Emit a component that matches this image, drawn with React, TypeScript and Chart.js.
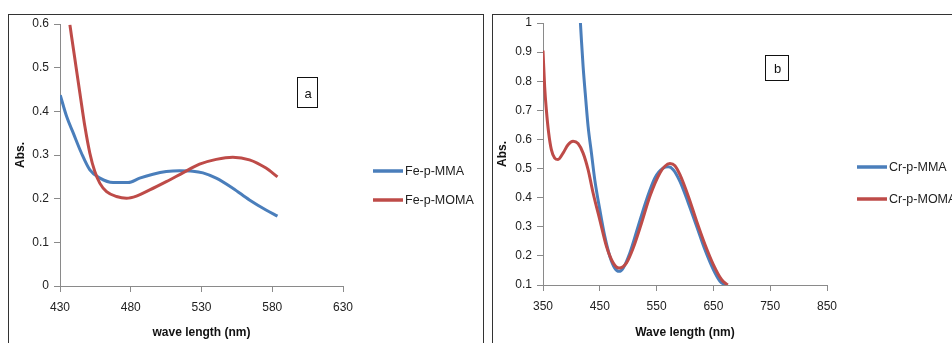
import React, { useEffect, useRef } from "react";
import { Chart, registerables } from "chart.js";
Chart.register(...registerables);

// ---------- Panel a data ----------
const feMmaX = [430.2, 434.7, 439.4, 445.2, 451.1, 458.2, 467.5, 478.1, 486.3, 495.7, 505.1, 514.5, 523.9, 531, 540.4, 552.1, 563.9, 575.6, 583.7];
const feMmaY = [0.437, 0.388, 0.35, 0.304, 0.266, 0.247, 0.237, 0.237, 0.247, 0.256, 0.262, 0.264, 0.263, 0.259, 0.247, 0.224, 0.197, 0.174, 0.16];
const feMomaX = [437.0, 438.2, 440.6, 444.1, 447.6, 451.1, 454.6, 458.2, 462.9, 469.9, 477.0, 484.0, 493.4, 505.1, 516.8, 528.6, 540.4, 552.1, 563.9, 575.6, 583.7];
const feMomaY = [0.598, 0.571, 0.518, 0.441, 0.365, 0.304, 0.262, 0.235, 0.216, 0.205, 0.201, 0.206, 0.22, 0.239, 0.259, 0.279, 0.29, 0.295, 0.289, 0.27, 0.25];

// ---------- Panel b data ----------
const crMmaX = [415.9, 417.6, 420.6, 425.3, 429.4, 435.3, 441.1, 450.0, 458.8, 467.6, 476.4, 484.1, 491.1, 502.9, 517.6, 532.3, 547.0, 561.7, 570.5, 579.3, 591.1, 605.8, 620.5, 635.2, 649.9, 661.6, 670.5];
const crMmaY = [1.0, 0.943, 0.851, 0.737, 0.645, 0.553, 0.462, 0.359, 0.267, 0.199, 0.158, 0.147, 0.158, 0.21, 0.302, 0.393, 0.468, 0.502, 0.506, 0.496, 0.456, 0.382, 0.302, 0.221, 0.153, 0.113, 0.1];
const crMomaX = [350.0, 352.9, 355.9, 360.0, 364.7, 370.6, 376.5, 385.3, 394.1, 402.9, 411.7, 420.6, 429.4, 438.2, 450.0, 461.7, 473.5, 484.1, 497.0, 508.8, 523.5, 538.2, 555.8, 564.6, 573.4, 582.3, 591.1, 605.8, 620.5, 635.2, 649.9, 664.6, 675.2];
const crMomaY = [0.905, 0.782, 0.702, 0.622, 0.565, 0.536, 0.531, 0.553, 0.582, 0.594, 0.586, 0.553, 0.496, 0.416, 0.324, 0.233, 0.176, 0.158, 0.176, 0.227, 0.313, 0.405, 0.485, 0.508, 0.517, 0.51, 0.479, 0.405, 0.319, 0.239, 0.17, 0.118, 0.1];

const labelsA = ["Fe-p-MMA", "Fe-p-MOMA"];
const labelsB = ["Cr-p-MMA", "Cr-p-MOMA"];

const BLUE = "#4a7ebb";
const RED = "#be4b48";
const FONT = '"Liberation Sans", Arial, sans-serif';

const toPts = (xs: number[], ys: number[]) => xs.map((x, i) => ({ x, y: ys[i] }));

const decorPlugin = {
  id: "decor",
  afterDraw(chart: any, _args: any, opts: any) {
    const ctx = chart.ctx;
    ctx.save();
    chart.data.datasets.forEach((ds: any, i: number) => {
      const y = opts.legendY + i * opts.legendGap;
      ctx.strokeStyle = ds.borderColor;
      ctx.lineWidth = 3.5;
      ctx.beginPath();
      ctx.moveTo(opts.legendX, y);
      ctx.lineTo(opts.legendX + 30, y);
      ctx.stroke();
      ctx.fillStyle = "#222";
      ctx.font = "12.5px " + FONT;
      ctx.textBaseline = "middle";
      ctx.textAlign = "left";
      ctx.fillText(ds.label, opts.legendX + 32, y + 1);
    });
    const b = opts.box;
    ctx.strokeStyle = "#111";
    ctx.lineWidth = 1;
    ctx.strokeRect(b.x + 0.5, b.y + 0.5, b.w, b.h);
    ctx.fillStyle = "#111";
    ctx.font = "13px " + FONT;
    ctx.textAlign = "center";
    ctx.textBaseline = "middle";
    ctx.fillText(b.text, b.x + b.w / 2 + 1, b.y + b.h / 2 + 2);
    ctx.restore();
  },
};

type PanelProps = {
  left: number;
  width: number;
  datasets: any[];
  xMin: number;
  xMax: number;
  xStep: number;
  yMin: number;
  yMax: number;
  yStep: number;
  xTitle: string;
  padTop: number;
  padRight: number;
  yAxisW: number;
  xAxisH: number;
  yTitlePad: number;
  decor: any;
};

function Panel(p: PanelProps) {
  const ref = useRef<HTMLCanvasElement>(null);
  useEffect(() => {
    const chart = new Chart(ref.current as HTMLCanvasElement, {
      type: "line",
      data: { datasets: p.datasets },
      plugins: [decorPlugin as any],
      options: {
        animation: false,
        responsive: false,
        maintainAspectRatio: false,
        layout: { padding: { left: 0, top: p.padTop, right: p.padRight, bottom: 0 } },
        plugins: {
          legend: { display: false },
          tooltip: { enabled: false },
          decor: p.decor,
        } as any,
        elements: { point: { radius: 0 }, line: { cubicInterpolationMode: "monotone", borderWidth: 3 } },
        scales: {
          x: {
            type: "linear",
            min: p.xMin,
            max: p.xMax,
            afterFit: (s: any) => { s.height = p.xAxisH; },
            ticks: { stepSize: p.xStep, color: "#222", font: { family: FONT, size: 12 }, padding: 8, maxRotation: 0 },
            grid: { drawOnChartArea: false, drawTicks: true, tickLength: 6, color: "#8a8a8a" },
            border: { color: "#8a8a8a", width: 1 },
            title: { display: true, text: p.xTitle, color: "#111", font: { family: FONT, size: 12, weight: "bold" }, padding: { top: 0, bottom: 3 } },
          },
          y: {
            type: "linear",
            min: p.yMin,
            max: p.yMax,
            afterFit: (s: any) => { s.width = p.yAxisW; },
            ticks: {
              stepSize: p.yStep,
              color: "#222",
              font: { family: FONT, size: 12 },
              padding: 5,
              callback: (v: any) => String(Math.round(Number(v) * 10) / 10),
            },
            grid: { drawOnChartArea: false, drawTicks: true, tickLength: 6, color: "#8a8a8a" },
            border: { color: "#8a8a8a", width: 1 },
            title: { display: true, text: "Abs.", color: "#111", font: { family: FONT, size: 12, weight: "bold" }, padding: { top: p.yTitlePad, bottom: 0 } },
          },
        },
      } as any,
    });
    return () => chart.destroy();
  }, []);
  return (
    <canvas
      ref={ref}
      width={p.width}
      height={343}
      style={{ position: "absolute", left: p.left, top: 0, width: p.width, height: 343 }}
    />
  );
}

export default function App() {
  const dsA = [
    { label: labelsA[0], data: toPts(feMmaX, feMmaY), borderColor: BLUE, backgroundColor: BLUE, order: 2 },
    { label: labelsA[1], data: toPts(feMomaX, feMomaY), borderColor: RED, backgroundColor: RED, order: 1 },
  ];
  const dsB = [
    { label: labelsB[0], data: toPts(crMmaX, crMmaY), borderColor: BLUE, backgroundColor: BLUE, order: 2 },
    { label: labelsB[1], data: toPts(crMomaX, crMomaY), borderColor: RED, backgroundColor: RED, order: 1 },
  ];
  return (
    <div style={{ position: "fixed", left: 0, top: 0, width: 952, height: 343, background: "#fff", overflow: "hidden" }}>
      <div style={{ position: "absolute", left: 8, top: 14, width: 474, height: 360, border: "1px solid #333" }} />
      <div style={{ position: "absolute", left: 492, top: 14, width: 500, height: 360, border: "1px solid #333" }} />
      <Panel
        left={0}
        width={488}
        datasets={dsA}
        xMin={430}
        xMax={630}
        xStep={50}
        yMin={0}
        yMax={0.6}
        yStep={0.1}
        xTitle="wave length (nm)"
        padTop={24}
        padRight={145}
        yAxisW={60}
        xAxisH={57}
        yTitlePad={13}
        decor={{ legendX: 373, legendY: 171, legendGap: 29, box: { x: 297, y: 77, w: 20, h: 30, text: "a" } }}
      />
      <Panel
        left={488}
        width={464}
        datasets={dsB}
        xMin={350}
        xMax={850}
        xStep={100}
        yMin={0.1}
        yMax={1}
        yStep={0.1}
        xTitle="Wave length (nm)"
        padTop={23}
        padRight={125}
        yAxisW={55}
        xAxisH={58}
        yTitlePad={7}
        decor={{ legendX: 369, legendY: 167, legendGap: 32, box: { x: 277, y: 55, w: 23, h: 25, text: "b" } }}
      />
    </div>
  );
}
